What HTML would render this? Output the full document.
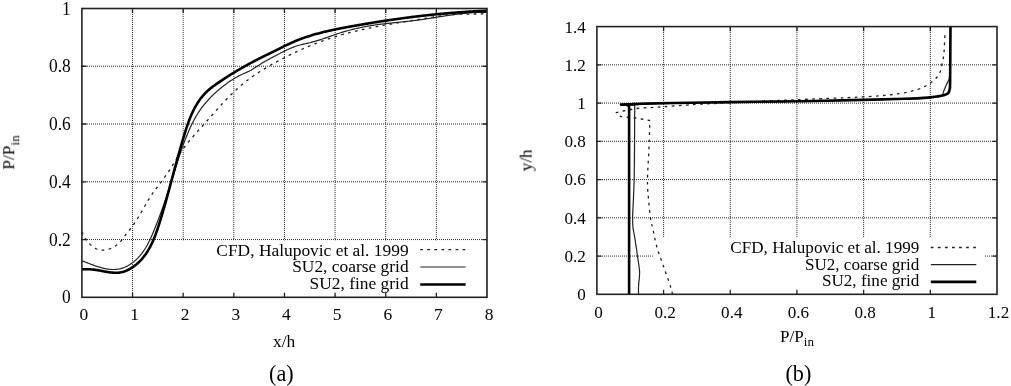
<!DOCTYPE html>
<html><head><meta charset="utf-8"><title>Figure</title>
<style>html,body{margin:0;padding:0;background:#fff;}body{width:1011px;height:386px;overflow:hidden;font-family:"Liberation Serif",serif;}svg{display:block;}</style>
</head><body>
<svg width="1011" height="386" viewBox="0 0 1011 386">
<rect width="1011" height="386" fill="#fff"/>
<defs><filter id="bl" x="0" y="0" width="100%" height="100%"><feGaussianBlur stdDeviation="0.4"/></filter></defs>
<g filter="url(#bl)">
<g font-family='"Liberation Serif", serif' font-size="17.5" fill="#000">
<g font-size="17.4">
<path d="M132.54,8 V297.3 M183.18,8 V240.34 M233.81,8 V240.34 M284.45,8 V240.34 M335.09,8 V240.34 M385.73,8 V240.34 M436.36,8 V240.34 M81,239.54 H487 M81,181.78 H487 M81,124.02 H487 M81,66.26 H487" stroke="#2a2a2a" stroke-width="1" stroke-dasharray="1 1" fill="none"/>
<path d="M132.54,297.3 v-4.6 M132.54,8.5 v4.6 M183.18,297.3 v-4.6 M183.18,8.5 v4.6 M233.81,297.3 v-4.6 M233.81,8.5 v4.6 M284.45,297.3 v-4.6 M284.45,8.5 v4.6 M335.09,297.3 v-4.6 M335.09,8.5 v4.6 M385.73,297.3 v-4.6 M385.73,8.5 v4.6 M436.36,297.3 v-4.6 M436.36,8.5 v4.6 M81.9,239.54 h4.6 M487,239.54 h-4.6 M81.9,181.78 h4.6 M487,181.78 h-4.6 M81.9,124.02 h4.6 M487,124.02 h-4.6 M81.9,66.26 h4.6 M487,66.26 h-4.6" stroke="#222" stroke-width="1.3" fill="none"/>
<path d="M81.95,231.76 L82.25,232.44 L82.57,233.14 L82.91,233.86 L83.27,234.58 L83.66,235.32 L84.06,236.06 L84.49,236.8 L84.93,237.55 L85.39,238.3 L85.88,239.04 L86.38,239.78 L86.9,240.51 L87.44,241.23 L87.99,241.94 L88.56,242.64 L89.15,243.32 L89.76,243.98 L90.38,244.61 L91.02,245.23 L91.67,245.82 L92.34,246.38 L93.02,246.91 L93.72,247.4 L94.43,247.87 L95.16,248.29 L95.89,248.68 L96.65,249.02 L97.41,249.32 L98.18,249.57 L98.97,249.78 L99.76,249.94 L100.57,250.07 L101.38,250.15 L102.19,250.19 L103.01,250.19 L103.83,250.15 L104.66,250.08 L105.48,249.96 L106.3,249.82 L107.12,249.64 L107.94,249.42 L108.75,249.18 L109.56,248.9 L110.36,248.59 L111.15,248.25 L111.93,247.89 L112.7,247.5 L113.46,247.08 L114.2,246.64 L114.93,246.17 L115.65,245.69 L116.34,245.18 L117.02,244.64 L117.67,244.09 L118.31,243.53 L118.93,242.94 L119.53,242.34 L120.12,241.72 L120.69,241.1 L121.25,240.46 L121.8,239.81 L122.35,239.15 L122.88,238.49 L123.4,237.82 L123.93,237.14 L124.44,236.46 L124.96,235.79 L125.47,235.11 L125.99,234.43 L126.51,233.76 L127.03,233.09 L127.55,232.42 L128.08,231.75 L128.61,231.09 L129.13,230.43 L129.66,229.77 L130.19,229.11 L130.71,228.44 L131.22,227.78 L131.74,227.11 L132.24,226.43 L132.74,225.75 L133.23,225.07 L133.72,224.38 L134.2,223.68 L134.67,222.98 L135.14,222.28 L135.61,221.58 L136.07,220.87 L136.53,220.15 L136.98,219.44 L137.43,218.72 L137.87,218 L138.31,217.27 L138.75,216.55 L139.18,215.82 L139.62,215.09 L140.05,214.36 L140.47,213.62 L140.9,212.89 L141.33,212.15 L141.75,211.41 L142.17,210.68 L142.59,209.94 L143.02,209.2 L143.44,208.46 L143.86,207.72 L144.28,206.98 L144.7,206.24 L145.13,205.5 L145.55,204.76 L145.98,204.03 L146.41,203.29 L146.84,202.56 L147.27,201.83 L147.71,201.1 L148.14,200.37 L148.58,199.64 L149.03,198.92 L149.48,198.19 L149.93,197.48 L150.38,196.76 L150.84,196.05 L151.31,195.34 L151.78,194.63 L152.25,193.93 L152.73,193.23 L153.22,192.54 L153.71,191.85 L154.21,191.16 L154.7,190.47 L155.21,189.79 L155.71,189.11 L156.22,188.43 L156.73,187.75 L157.24,187.07 L157.75,186.4 L158.26,185.72 L158.78,185.05 L159.29,184.37 L159.81,183.7 L160.32,183.02 L160.83,182.34 L161.34,181.67 L161.85,180.99 L162.36,180.3 L162.86,179.62 L163.36,178.94 L163.86,178.25 L164.36,177.56 L164.85,176.87 L165.34,176.18 L165.83,175.48 L166.32,174.79 L166.8,174.09 L167.28,173.39 L167.76,172.69 L168.24,171.99 L168.71,171.28 L169.18,170.57 L169.65,169.86 L170.11,169.15 L170.57,168.44 L171.03,167.73 L171.49,167.01 L171.94,166.29 L172.39,165.57 L172.84,164.85 L173.29,164.13 L173.74,163.41 L174.18,162.69 L174.63,161.96 L175.07,161.24 L175.52,160.52 L175.96,159.79 L176.41,159.07 L176.86,158.35 L177.3,157.63 L177.76,156.91 L178.21,156.2 L178.66,155.48 L179.12,154.77 L179.58,154.06 L180.05,153.35 L180.51,152.64 L180.99,151.94 L181.46,151.24 L181.94,150.55 L182.43,149.85 L182.92,149.17 L183.42,148.48 L183.92,147.8 L184.42,147.12 L184.93,146.44 L185.44,145.77 L185.96,145.1 L186.48,144.43 L187,143.77 L187.53,143.1 L188.06,142.44 L188.6,141.79 L189.13,141.13 L189.68,140.48 L190.22,139.83 L190.76,139.18 L191.31,138.53 L191.86,137.88 L192.42,137.24 L192.97,136.6 L193.53,135.96 L194.09,135.32 L194.65,134.68 L195.21,134.04 L195.78,133.4 L196.34,132.77 L196.91,132.13 L197.47,131.5 L198.04,130.87 L198.61,130.23 L199.18,129.6 L199.75,128.97 L200.32,128.34 L200.89,127.71 L201.46,127.07 L202.03,126.44 L202.6,125.81 L203.17,125.18 L203.74,124.54 L204.3,123.91 L204.87,123.28 L205.44,122.64 L206,122.01 L206.57,121.37 L207.13,120.74 L207.69,120.1 L208.26,119.46 L208.82,118.83 L209.38,118.19 L209.95,117.55 L210.51,116.92 L211.07,116.28 L211.63,115.64 L212.19,115.01 L212.75,114.37 L213.32,113.73 L213.88,113.1 L214.44,112.46 L215,111.83 L215.57,111.2 L216.13,110.56 L216.7,109.93 L217.26,109.3 L217.83,108.67 L218.39,108.04 L218.96,107.41 L219.53,106.78 L220.1,106.15 L220.67,105.53 L221.24,104.9 L221.81,104.28 L222.39,103.66 L222.96,103.03 L223.54,102.42 L224.12,101.8 L224.7,101.18 L225.28,100.57 L225.86,99.95 L226.45,99.34 L227.03,98.73 L227.62,98.12 L228.21,97.52 L228.8,96.91 L229.4,96.31 L230,95.71 L230.59,95.11 L231.19,94.52 L231.8,93.93 L232.4,93.34 L233.01,92.75 L233.62,92.16 L234.24,91.58 L234.85,91 L235.47,90.42 L236.09,89.84 L236.72,89.27 L237.35,88.7 L237.98,88.14 L238.61,87.57 L239.25,87.01 L239.89,86.45 L240.53,85.9 L241.18,85.35 L241.83,84.8 L242.48,84.25 L243.13,83.71 L243.79,83.17 L244.45,82.64 L245.12,82.11 L245.78,81.58 L246.45,81.06 L247.12,80.53 L247.8,80.02 L248.48,79.5 L249.16,78.99 L249.84,78.48 L250.52,77.98 L251.21,77.48 L251.9,76.98 L252.59,76.49 L253.28,76 L253.98,75.52 L254.67,75.04 L255.37,74.56 L256.08,74.08 L256.78,73.61 L257.49,73.14 L258.19,72.68 L258.9,72.21 L259.61,71.76 L260.33,71.3 L261.04,70.85 L261.76,70.4 L262.48,69.95 L263.2,69.5 L263.92,69.06 L264.64,68.62 L265.37,68.19 L266.09,67.75 L266.82,67.32 L267.55,66.89 L268.28,66.47 L269.02,66.04 L269.75,65.62 L270.49,65.2 L271.22,64.78 L271.96,64.37 L272.7,63.96 L273.44,63.54 L274.18,63.13 L274.93,62.73 L275.67,62.32 L276.41,61.92 L277.16,61.52 L277.91,61.12 L278.66,60.72 L279.41,60.32 L280.16,59.92 L280.91,59.53 L281.66,59.14 L282.41,58.74 L283.16,58.35 L283.92,57.97 L284.67,57.58 L285.43,57.19 L286.19,56.81 L286.94,56.42 L287.7,56.04 L288.46,55.66 L289.22,55.28 L289.98,54.91 L290.75,54.53 L291.51,54.16 L292.27,53.79 L293.04,53.42 L293.8,53.05 L294.57,52.68 L295.33,52.32 L296.1,51.95 L296.87,51.59 L297.64,51.23 L298.41,50.88 L299.18,50.52 L299.96,50.17 L300.73,49.82 L301.5,49.47 L302.28,49.12 L303.05,48.77 L303.83,48.43 L304.61,48.09 L305.39,47.75 L306.17,47.41 L306.95,47.08 L307.73,46.75 L308.51,46.42 L309.29,46.09 L310.08,45.76 L310.86,45.44 L311.65,45.12 L312.44,44.8 L313.22,44.48 L314.01,44.17 L314.8,43.86 L315.59,43.55 L316.38,43.24 L317.18,42.94 L317.97,42.63 L318.76,42.33 L319.56,42.04 L320.35,41.74 L321.15,41.45 L321.95,41.16 L322.75,40.87 L323.54,40.59 L324.34,40.31 L325.15,40.03 L325.95,39.75 L326.75,39.47 L327.55,39.2 L328.36,38.93 L329.16,38.66 L329.97,38.39 L330.77,38.13 L331.58,37.87 L332.39,37.61 L333.2,37.35 L334,37.1 L334.81,36.84 L335.62,36.59 L336.44,36.34 L337.25,36.1 L338.06,35.85 L338.87,35.61 L339.69,35.37 L340.5,35.13 L341.32,34.9 L342.13,34.67 L342.95,34.43 L343.76,34.21 L344.58,33.98 L345.4,33.75 L346.22,33.53 L347.04,33.31 L347.86,33.09 L348.68,32.87 L349.5,32.66 L350.32,32.45 L351.14,32.24 L351.96,32.03 L352.78,31.82 L353.61,31.62 L354.43,31.41 L355.25,31.21 L356.08,31.01 L356.9,30.82 L357.73,30.62 L358.55,30.43 L359.38,30.24 L360.21,30.05 L361.03,29.86 L361.86,29.67 L362.69,29.49 L363.51,29.3 L364.34,29.12 L365.17,28.94 L366,28.76 L366.83,28.58 L367.66,28.41 L368.49,28.23 L369.32,28.06 L370.15,27.89 L370.98,27.72 L371.81,27.55 L372.65,27.38 L373.48,27.22 L374.31,27.05 L375.14,26.89 L375.98,26.73 L376.81,26.57 L377.64,26.41 L378.48,26.25 L379.31,26.09 L380.14,25.94 L380.98,25.78 L381.81,25.63 L382.65,25.47 L383.48,25.32 L384.32,25.17 L385.15,25.02 L385.99,24.87 L386.83,24.72 L387.66,24.57 L388.5,24.43 L389.33,24.28 L390.17,24.13 L391.01,23.99 L391.84,23.85 L392.68,23.7 L393.52,23.56 L394.36,23.42 L395.19,23.28 L396.03,23.14 L396.87,23 L397.71,22.86 L398.54,22.72 L399.38,22.58 L400.22,22.44 L401.06,22.3 L401.9,22.17 L402.73,22.03 L403.57,21.89 L404.41,21.76 L405.25,21.62 L406.09,21.49 L406.93,21.35 L407.76,21.21 L408.6,21.08 L409.44,20.94 L410.28,20.81 L411.12,20.68 L411.96,20.54 L412.8,20.41 L413.63,20.27 L414.47,20.14 L415.31,20 L416.15,19.87 L416.99,19.73 L417.82,19.6 L418.66,19.46 L419.5,19.33 L420.34,19.19 L421.18,19.06 L422.01,18.92 L422.85,18.79 L423.69,18.65 L424.53,18.51 L425.36,18.38 L426.2,18.24 L427.04,18.1 L427.87,17.96 L428.71,17.83 L429.55,17.69 L430.38,17.55 L431.22,17.42 L432.06,17.28 L432.89,17.15 L433.73,17.01 L434.57,16.88 L435.4,16.75 L436.24,16.62 L437.08,16.49 L437.92,16.37 L438.75,16.24 L439.59,16.12 L440.43,16 L441.27,15.88 L442.11,15.77 L442.95,15.66 L443.79,15.55 L444.62,15.44 L445.46,15.34 L446.31,15.24 L447.15,15.14 L447.99,15.05 L448.83,14.96 L449.67,14.88 L450.51,14.8 L451.36,14.72 L452.2,14.65 L453.05,14.58 L453.89,14.52 L454.74,14.46 L455.58,14.41 L456.43,14.37 L457.28,14.32 L458.13,14.29 L458.98,14.25 L459.83,14.22 L460.68,14.2 L461.53,14.18 L462.38,14.16 L463.23,14.14 L464.08,14.13 L464.93,14.12 L465.78,14.11 L466.63,14.1 L467.49,14.09 L468.34,14.09 L469.19,14.08 L470.04,14.07 L470.89,14.07 L471.75,14.06 L472.6,14.05 L473.45,14.04 L474.3,14.03 L475.15,14.01 L476,14 L476.85,13.98 L477.7,13.96 L478.55,13.93 L479.4,13.9 L480.25,13.87 L481.09,13.83 L481.94,13.78 L482.78,13.73 L483.63,13.68 L484.47,13.62 L485.32,13.55 L486.16,13.48 L487,13.4" stroke="#1e1e1e" stroke-width="1.3" stroke-dasharray="2.7 4.37" fill="none" stroke-linejoin="round"/>
<path d="M81.97,260.74 L82.73,261.03 L83.5,261.33 L84.27,261.64 L85.06,261.95 L85.86,262.27 L86.66,262.59 L87.47,262.91 L88.29,263.23 L89.11,263.56 L89.95,263.88 L90.78,264.2 L91.63,264.53 L92.48,264.84 L93.33,265.16 L94.19,265.47 L95.05,265.77 L95.92,266.07 L96.79,266.37 L97.67,266.65 L98.54,266.93 L99.42,267.19 L100.31,267.45 L101.19,267.7 L102.08,267.93 L102.97,268.15 L103.86,268.36 L104.75,268.55 L105.64,268.73 L106.53,268.89 L107.42,269.04 L108.31,269.16 L109.2,269.27 L110.09,269.36 L110.98,269.43 L111.86,269.48 L112.75,269.51 L113.63,269.51 L114.51,269.49 L115.38,269.44 L116.25,269.38 L117.12,269.28 L117.98,269.16 L118.84,269.01 L119.69,268.83 L120.54,268.62 L121.38,268.39 L122.22,268.14 L123.05,267.85 L123.87,267.55 L124.69,267.22 L125.5,266.86 L126.3,266.49 L127.1,266.09 L127.88,265.68 L128.66,265.24 L129.42,264.78 L130.18,264.31 L130.93,263.82 L131.67,263.31 L132.4,262.78 L133.11,262.24 L133.82,261.68 L134.51,261.11 L135.2,260.53 L135.87,259.93 L136.52,259.32 L137.17,258.7 L137.8,258.06 L138.42,257.42 L139.02,256.77 L139.61,256.11 L140.19,255.43 L140.76,254.75 L141.31,254.06 L141.86,253.37 L142.39,252.66 L142.91,251.94 L143.42,251.22 L143.92,250.49 L144.41,249.76 L144.89,249.01 L145.36,248.26 L145.82,247.5 L146.27,246.74 L146.72,245.97 L147.15,245.2 L147.58,244.42 L148,243.63 L148.41,242.84 L148.82,242.05 L149.22,241.25 L149.61,240.44 L150,239.64 L150.38,238.83 L150.75,238.01 L151.12,237.2 L151.49,236.38 L151.85,235.56 L152.21,234.74 L152.56,233.91 L152.91,233.08 L153.26,232.26 L153.6,231.43 L153.94,230.6 L154.28,229.77 L154.62,228.94 L154.95,228.11 L155.29,227.28 L155.62,226.44 L155.95,225.61 L156.28,224.78 L156.6,223.95 L156.93,223.12 L157.25,222.29 L157.57,221.45 L157.89,220.62 L158.21,219.79 L158.53,218.96 L158.84,218.12 L159.15,217.29 L159.47,216.46 L159.78,215.62 L160.09,214.79 L160.39,213.95 L160.7,213.12 L161,212.28 L161.31,211.45 L161.61,210.61 L161.91,209.78 L162.21,208.94 L162.5,208.1 L162.8,207.27 L163.09,206.43 L163.39,205.59 L163.68,204.75 L163.97,203.92 L164.26,203.08 L164.55,202.24 L164.84,201.4 L165.12,200.56 L165.41,199.72 L165.69,198.88 L165.97,198.04 L166.26,197.2 L166.54,196.35 L166.82,195.51 L167.1,194.67 L167.37,193.83 L167.65,192.98 L167.93,192.14 L168.2,191.29 L168.48,190.45 L168.75,189.6 L169.02,188.76 L169.29,187.91 L169.56,187.07 L169.83,186.22 L170.1,185.37 L170.37,184.52 L170.64,183.67 L170.91,182.83 L171.17,181.98 L171.44,181.13 L171.71,180.28 L171.97,179.43 L172.24,178.57 L172.5,177.72 L172.77,176.87 L173.03,176.02 L173.3,175.17 L173.56,174.32 L173.83,173.47 L174.09,172.61 L174.36,171.76 L174.62,170.91 L174.89,170.06 L175.15,169.21 L175.42,168.35 L175.69,167.5 L175.95,166.65 L176.22,165.8 L176.49,164.95 L176.76,164.1 L177.03,163.25 L177.3,162.39 L177.58,161.54 L177.85,160.69 L178.12,159.85 L178.4,159 L178.68,158.15 L178.96,157.3 L179.24,156.45 L179.52,155.6 L179.8,154.76 L180.08,153.91 L180.37,153.07 L180.66,152.22 L180.95,151.38 L181.24,150.54 L181.53,149.69 L181.82,148.85 L182.12,148.01 L182.42,147.17 L182.72,146.33 L183.02,145.49 L183.33,144.66 L183.64,143.82 L183.95,142.98 L184.26,142.15 L184.58,141.32 L184.89,140.48 L185.21,139.65 L185.54,138.82 L185.86,137.99 L186.19,137.17 L186.52,136.34 L186.86,135.51 L187.19,134.69 L187.53,133.87 L187.88,133.05 L188.22,132.23 L188.57,131.41 L188.93,130.59 L189.29,129.78 L189.65,128.97 L190.01,128.16 L190.38,127.35 L190.76,126.54 L191.14,125.74 L191.52,124.94 L191.91,124.14 L192.3,123.34 L192.7,122.55 L193.1,121.76 L193.51,120.97 L193.93,120.19 L194.35,119.41 L194.77,118.63 L195.2,117.86 L195.64,117.09 L196.09,116.32 L196.54,115.56 L196.99,114.8 L197.46,114.04 L197.93,113.29 L198.41,112.54 L198.89,111.8 L199.39,111.06 L199.89,110.33 L200.39,109.6 L200.91,108.88 L201.43,108.16 L201.96,107.44 L202.5,106.73 L203.04,106.03 L203.59,105.33 L204.15,104.63 L204.72,103.94 L205.29,103.26 L205.86,102.58 L206.45,101.9 L207.04,101.23 L207.63,100.56 L208.23,99.9 L208.84,99.24 L209.45,98.59 L210.07,97.94 L210.69,97.3 L211.32,96.66 L211.96,96.03 L212.59,95.4 L213.24,94.78 L213.88,94.16 L214.54,93.54 L215.19,92.94 L215.86,92.33 L216.52,91.73 L217.19,91.14 L217.86,90.55 L218.54,89.97 L219.22,89.39 L219.91,88.82 L220.59,88.25 L221.28,87.68 L221.98,87.13 L222.67,86.57 L223.37,86.02 L224.08,85.48 L224.78,84.94 L225.49,84.41 L226.21,83.89 L226.92,83.37 L227.64,82.85 L228.37,82.34 L229.1,81.84 L229.83,81.34 L230.56,80.85 L231.3,80.37 L232.05,79.89 L232.79,79.42 L233.54,78.95 L234.3,78.49 L235.06,78.04 L235.82,77.6 L236.59,77.16 L237.37,76.73 L238.15,76.31 L238.93,75.89 L239.72,75.48 L240.51,75.08 L241.31,74.69 L242.11,74.3 L242.92,73.92 L243.73,73.55 L244.55,73.19 L245.37,72.83 L246.19,72.47 L247.01,72.1 L247.82,71.74 L248.63,71.36 L249.44,70.98 L250.24,70.58 L251.03,70.17 L251.81,69.74 L252.58,69.3 L253.33,68.83 L254.08,68.35 L254.82,67.86 L255.56,67.36 L256.29,66.86 L257.03,66.36 L257.77,65.87 L258.51,65.39 L259.26,64.91 L260.01,64.43 L260.76,63.96 L261.52,63.5 L262.28,63.03 L263.04,62.58 L263.81,62.13 L264.58,61.68 L265.35,61.23 L266.12,60.79 L266.89,60.36 L267.67,59.92 L268.45,59.49 L269.23,59.06 L270.01,58.64 L270.8,58.21 L271.58,57.79 L272.37,57.37 L273.16,56.96 L273.94,56.54 L274.73,56.13 L275.53,55.72 L276.32,55.3 L277.11,54.89 L277.9,54.48 L278.7,54.07 L279.49,53.66 L280.29,53.25 L281.08,52.84 L281.88,52.44 L282.67,52.03 L283.47,51.63 L284.27,51.23 L285.07,50.83 L285.87,50.44 L286.67,50.05 L287.48,49.67 L288.29,49.3 L289.1,48.93 L289.91,48.57 L290.73,48.21 L291.55,47.87 L292.37,47.53 L293.19,47.21 L294.02,46.89 L294.86,46.59 L295.69,46.29 L296.54,46.01 L297.38,45.74 L298.23,45.49 L299.09,45.24 L299.95,45.01 L300.81,44.78 L301.67,44.57 L302.54,44.36 L303.41,44.15 L304.28,43.95 L305.15,43.75 L306.02,43.56 L306.89,43.36 L307.77,43.16 L308.64,42.96 L309.51,42.76 L310.38,42.56 L311.24,42.34 L312.11,42.12 L312.97,41.9 L313.83,41.66 L314.68,41.42 L315.54,41.18 L316.39,40.92 L317.24,40.66 L318.09,40.4 L318.94,40.13 L319.78,39.86 L320.63,39.58 L321.47,39.3 L322.31,39.01 L323.15,38.73 L323.99,38.44 L324.83,38.15 L325.67,37.85 L326.51,37.56 L327.35,37.26 L328.19,36.97 L329.03,36.67 L329.87,36.37 L330.71,36.08 L331.54,35.78 L332.39,35.49 L333.23,35.2 L334.07,34.91 L334.91,34.62 L335.76,34.34 L336.6,34.06 L337.45,33.78 L338.3,33.51 L339.15,33.24 L340,32.97 L340.85,32.71 L341.7,32.44 L342.55,32.19 L343.41,31.93 L344.26,31.68 L345.12,31.43 L345.98,31.19 L346.84,30.94 L347.7,30.71 L348.56,30.47 L349.42,30.24 L350.28,30.01 L351.15,29.78 L352.01,29.56 L352.88,29.34 L353.74,29.13 L354.61,28.92 L355.48,28.71 L356.35,28.5 L357.22,28.3 L358.09,28.11 L358.96,27.91 L359.83,27.72 L360.7,27.53 L361.57,27.35 L362.45,27.17 L363.32,26.99 L364.2,26.82 L365.07,26.65 L365.95,26.48 L366.82,26.32 L367.7,26.16 L368.58,26.01 L369.46,25.86 L370.34,25.71 L371.21,25.57 L372.09,25.43 L372.97,25.29 L373.85,25.16 L374.73,25.03 L375.62,24.9 L376.5,24.77 L377.38,24.65 L378.26,24.53 L379.14,24.42 L380.03,24.3 L380.91,24.19 L381.79,24.08 L382.68,23.98 L383.56,23.87 L384.44,23.77 L385.33,23.67 L386.21,23.57 L387.1,23.47 L387.98,23.37 L388.87,23.28 L389.75,23.18 L390.64,23.09 L391.52,23 L392.41,22.9 L393.29,22.81 L394.18,22.72 L395.06,22.63 L395.95,22.54 L396.84,22.45 L397.72,22.36 L398.61,22.27 L399.49,22.18 L400.38,22.09 L401.26,22 L402.15,21.91 L403.04,21.82 L403.92,21.73 L404.81,21.64 L405.69,21.54 L406.58,21.45 L407.46,21.35 L408.35,21.25 L409.23,21.15 L410.11,21.05 L411,20.95 L411.88,20.84 L412.77,20.74 L413.65,20.63 L414.53,20.52 L415.41,20.41 L416.3,20.29 L417.18,20.17 L418.06,20.05 L418.94,19.93 L419.82,19.81 L420.71,19.69 L421.59,19.56 L422.47,19.43 L423.35,19.3 L424.23,19.17 L425.11,19.04 L425.99,18.91 L426.87,18.77 L427.75,18.64 L428.63,18.5 L429.51,18.37 L430.39,18.23 L431.27,18.09 L432.15,17.95 L433.03,17.82 L433.91,17.68 L434.79,17.54 L435.67,17.4 L436.55,17.26 L437.42,17.12 L438.3,16.98 L439.18,16.84 L440.06,16.7 L440.94,16.56 L441.82,16.43 L442.7,16.29 L443.58,16.15 L444.46,16.02 L445.34,15.88 L446.22,15.75 L447.1,15.62 L447.98,15.49 L448.86,15.36 L449.74,15.23 L450.62,15.1 L451.5,14.98 L452.38,14.85 L453.26,14.73 L454.15,14.61 L455.03,14.49 L455.91,14.38 L456.79,14.26 L457.67,14.15 L458.56,14.04 L459.44,13.93 L460.32,13.83 L461.21,13.73 L462.09,13.63 L462.98,13.53 L463.86,13.44 L464.74,13.34 L465.63,13.26 L466.52,13.17 L467.4,13.09 L468.29,13.01 L469.17,12.94 L470.06,12.87 L470.95,12.8 L471.84,12.73 L472.73,12.67 L473.62,12.62 L474.5,12.57 L475.39,12.52 L476.29,12.47 L477.18,12.44 L478.07,12.4 L478.96,12.37 L479.85,12.34 L480.75,12.32 L481.64,12.3 L482.53,12.29 L483.43,12.29 L484.32,12.28 L485.22,12.29 L486.12,12.29 L487.01,12.31" stroke="#222" stroke-width="1.2" fill="none" stroke-linejoin="round"/>
<path d="M81.93,269.4 L82.83,269.33 L83.73,269.27 L84.63,269.23 L85.53,269.2 L86.42,269.19 L87.32,269.2 L88.21,269.22 L89.1,269.25 L90,269.3 L90.89,269.37 L91.79,269.44 L92.68,269.53 L93.58,269.63 L94.48,269.74 L95.38,269.86 L96.28,269.99 L97.18,270.12 L98.09,270.27 L98.99,270.43 L99.9,270.59 L100.81,270.76 L101.73,270.93 L102.64,271.1 L103.56,271.27 L104.47,271.45 L105.39,271.61 L106.3,271.78 L107.22,271.94 L108.13,272.08 L109.05,272.22 L109.96,272.35 L110.87,272.46 L111.79,272.56 L112.69,272.64 L113.6,272.71 L114.5,272.75 L115.4,272.77 L116.3,272.77 L117.19,272.74 L118.08,272.69 L118.97,272.6 L119.85,272.49 L120.73,272.34 L121.6,272.17 L122.47,271.96 L123.33,271.72 L124.18,271.46 L125.03,271.16 L125.87,270.85 L126.7,270.5 L127.52,270.13 L128.34,269.74 L129.15,269.32 L129.95,268.89 L130.74,268.43 L131.51,267.95 L132.28,267.46 L133.04,266.95 L133.79,266.42 L134.53,265.87 L135.25,265.31 L135.96,264.74 L136.66,264.16 L137.35,263.56 L138.02,262.95 L138.68,262.33 L139.33,261.71 L139.96,261.07 L140.58,260.42 L141.19,259.76 L141.79,259.1 L142.37,258.42 L142.94,257.74 L143.5,257.05 L144.05,256.35 L144.59,255.64 L145.12,254.92 L145.63,254.2 L146.14,253.47 L146.64,252.73 L147.12,251.98 L147.6,251.23 L148.06,250.46 L148.52,249.7 L148.97,248.92 L149.41,248.14 L149.84,247.36 L150.26,246.57 L150.67,245.77 L151.08,244.96 L151.48,244.16 L151.87,243.34 L152.25,242.52 L152.62,241.7 L152.99,240.87 L153.35,240.04 L153.71,239.2 L154.06,238.36 L154.4,237.52 L154.74,236.67 L155.07,235.82 L155.4,234.97 L155.72,234.11 L156.04,233.25 L156.35,232.39 L156.65,231.53 L156.96,230.66 L157.26,229.79 L157.55,228.92 L157.84,228.05 L158.13,227.17 L158.42,226.3 L158.7,225.42 L158.98,224.55 L159.26,223.67 L159.53,222.79 L159.8,221.91 L160.07,221.04 L160.34,220.16 L160.61,219.28 L160.88,218.4 L161.14,217.53 L161.41,216.65 L161.67,215.77 L161.93,214.9 L162.19,214.02 L162.45,213.14 L162.71,212.27 L162.97,211.39 L163.22,210.52 L163.48,209.64 L163.73,208.77 L163.98,207.89 L164.23,207.02 L164.48,206.14 L164.73,205.27 L164.98,204.4 L165.23,203.52 L165.48,202.65 L165.72,201.78 L165.97,200.9 L166.21,200.03 L166.46,199.16 L166.7,198.29 L166.94,197.41 L167.18,196.54 L167.42,195.67 L167.66,194.8 L167.9,193.93 L168.14,193.05 L168.38,192.18 L168.62,191.31 L168.85,190.44 L169.09,189.57 L169.33,188.7 L169.56,187.83 L169.8,186.96 L170.03,186.09 L170.27,185.21 L170.5,184.34 L170.74,183.47 L170.97,182.6 L171.21,181.73 L171.44,180.86 L171.67,179.99 L171.91,179.12 L172.14,178.25 L172.37,177.38 L172.61,176.51 L172.84,175.64 L173.08,174.78 L173.31,173.91 L173.54,173.04 L173.78,172.17 L174.01,171.3 L174.24,170.43 L174.48,169.56 L174.71,168.69 L174.95,167.82 L175.18,166.95 L175.42,166.08 L175.65,165.21 L175.89,164.34 L176.12,163.47 L176.36,162.6 L176.6,161.73 L176.84,160.86 L177.07,160 L177.31,159.13 L177.55,158.26 L177.79,157.39 L178.03,156.52 L178.27,155.65 L178.52,154.78 L178.76,153.91 L179,153.04 L179.25,152.17 L179.49,151.3 L179.74,150.43 L179.98,149.56 L180.23,148.69 L180.48,147.82 L180.73,146.95 L180.98,146.08 L181.23,145.21 L181.48,144.34 L181.73,143.47 L181.99,142.6 L182.24,141.73 L182.5,140.86 L182.76,139.99 L183.01,139.11 L183.27,138.24 L183.53,137.37 L183.8,136.5 L184.06,135.63 L184.33,134.76 L184.59,133.89 L184.86,133.01 L185.13,132.14 L185.4,131.27 L185.68,130.4 L185.95,129.53 L186.23,128.66 L186.52,127.79 L186.8,126.93 L187.09,126.06 L187.39,125.2 L187.69,124.34 L187.99,123.48 L188.29,122.62 L188.61,121.76 L188.92,120.91 L189.24,120.06 L189.57,119.21 L189.9,118.36 L190.24,117.52 L190.58,116.68 L190.93,115.84 L191.29,115.01 L191.65,114.18 L192.02,113.35 L192.4,112.53 L192.78,111.71 L193.18,110.9 L193.58,110.09 L193.99,109.28 L194.4,108.48 L194.83,107.69 L195.26,106.9 L195.7,106.11 L196.15,105.33 L196.62,104.55 L197.09,103.78 L197.57,103.02 L198.06,102.26 L198.56,101.51 L199.07,100.76 L199.59,100.02 L200.13,99.29 L200.67,98.56 L201.23,97.84 L201.79,97.13 L202.37,96.42 L202.96,95.73 L203.56,95.04 L204.17,94.37 L204.79,93.7 L205.41,93.05 L206.05,92.4 L206.7,91.77 L207.36,91.15 L208.02,90.54 L208.7,89.94 L209.38,89.35 L210.07,88.77 L210.77,88.2 L211.48,87.64 L212.19,87.08 L212.9,86.54 L213.62,86 L214.35,85.46 L215.08,84.93 L215.81,84.4 L216.55,83.88 L217.29,83.37 L218.04,82.85 L218.78,82.34 L219.53,81.83 L220.28,81.32 L221.03,80.82 L221.78,80.31 L222.54,79.81 L223.29,79.31 L224.05,78.82 L224.81,78.32 L225.57,77.83 L226.33,77.34 L227.1,76.85 L227.86,76.36 L228.63,75.88 L229.39,75.4 L230.16,74.91 L230.93,74.44 L231.71,73.96 L232.48,73.48 L233.25,73.01 L234.03,72.54 L234.81,72.07 L235.58,71.61 L236.36,71.14 L237.14,70.68 L237.92,70.22 L238.71,69.76 L239.49,69.3 L240.27,68.85 L241.06,68.4 L241.85,67.95 L242.63,67.5 L243.42,67.05 L244.21,66.61 L245,66.17 L245.79,65.73 L246.58,65.29 L247.38,64.85 L248.17,64.42 L248.97,63.98 L249.76,63.55 L250.56,63.12 L251.36,62.7 L252.15,62.27 L252.95,61.85 L253.75,61.43 L254.55,61.01 L255.36,60.59 L256.16,60.17 L256.96,59.76 L257.77,59.34 L258.57,58.93 L259.38,58.52 L260.19,58.11 L260.99,57.71 L261.8,57.3 L262.61,56.9 L263.42,56.5 L264.24,56.09 L265.05,55.7 L265.86,55.3 L266.68,54.9 L267.49,54.51 L268.31,54.11 L269.12,53.72 L269.94,53.32 L270.76,52.93 L271.57,52.53 L272.39,52.14 L273.2,51.74 L274.01,51.34 L274.83,50.94 L275.64,50.53 L276.45,50.12 L277.26,49.71 L278.07,49.3 L278.87,48.89 L279.68,48.48 L280.49,48.07 L281.3,47.66 L282.11,47.25 L282.92,46.84 L283.73,46.44 L284.54,46.04 L285.36,45.64 L286.17,45.24 L286.99,44.85 L287.81,44.46 L288.63,44.08 L289.45,43.7 L290.27,43.32 L291.1,42.95 L291.92,42.58 L292.75,42.21 L293.58,41.85 L294.41,41.5 L295.24,41.15 L296.08,40.8 L296.91,40.46 L297.75,40.12 L298.59,39.79 L299.44,39.46 L300.28,39.14 L301.12,38.83 L301.97,38.51 L302.82,38.21 L303.67,37.9 L304.52,37.61 L305.38,37.31 L306.23,37.02 L307.09,36.74 L307.95,36.46 L308.81,36.18 L309.67,35.91 L310.54,35.64 L311.4,35.37 L312.27,35.11 L313.13,34.86 L314,34.6 L314.87,34.35 L315.74,34.11 L316.61,33.87 L317.49,33.63 L318.36,33.39 L319.24,33.16 L320.11,32.93 L320.99,32.7 L321.87,32.48 L322.75,32.26 L323.63,32.05 L324.51,31.83 L325.39,31.62 L326.28,31.41 L327.16,31.21 L328.04,31 L328.93,30.8 L329.82,30.61 L330.7,30.41 L331.59,30.22 L332.48,30.02 L333.37,29.84 L334.26,29.65 L335.15,29.46 L336.04,29.28 L336.93,29.1 L337.82,28.92 L338.71,28.74 L339.6,28.57 L340.49,28.39 L341.39,28.22 L342.28,28.05 L343.17,27.88 L344.07,27.71 L344.96,27.54 L345.85,27.37 L346.75,27.21 L347.64,27.05 L348.53,26.88 L349.43,26.72 L350.32,26.56 L351.22,26.4 L352.11,26.24 L353,26.08 L353.9,25.92 L354.79,25.76 L355.68,25.6 L356.58,25.44 L357.47,25.29 L358.36,25.13 L359.26,24.98 L360.15,24.82 L361.04,24.67 L361.93,24.51 L362.83,24.36 L363.72,24.21 L364.61,24.06 L365.51,23.9 L366.4,23.75 L367.29,23.6 L368.18,23.46 L369.08,23.31 L369.97,23.16 L370.86,23.01 L371.76,22.87 L372.65,22.72 L373.54,22.57 L374.44,22.43 L375.33,22.29 L376.22,22.14 L377.12,22 L378.01,21.86 L378.9,21.72 L379.8,21.58 L380.69,21.44 L381.58,21.3 L382.48,21.16 L383.37,21.02 L384.26,20.89 L385.16,20.75 L386.05,20.62 L386.95,20.48 L387.84,20.35 L388.74,20.21 L389.63,20.08 L390.53,19.95 L391.42,19.82 L392.32,19.69 L393.21,19.56 L394.11,19.43 L395,19.3 L395.9,19.18 L396.8,19.05 L397.69,18.92 L398.59,18.8 L399.49,18.67 L400.38,18.55 L401.28,18.43 L402.18,18.31 L403.08,18.19 L403.97,18.07 L404.87,17.95 L405.77,17.83 L406.67,17.71 L407.57,17.59 L408.46,17.48 L409.36,17.36 L410.26,17.25 L411.16,17.13 L412.06,17.02 L412.96,16.91 L413.86,16.8 L414.76,16.69 L415.66,16.58 L416.56,16.47 L417.46,16.36 L418.36,16.25 L419.26,16.14 L420.16,16.04 L421.06,15.93 L421.96,15.83 L422.86,15.73 L423.76,15.63 L424.66,15.52 L425.57,15.42 L426.47,15.32 L427.37,15.23 L428.27,15.13 L429.17,15.03 L430.07,14.93 L430.97,14.84 L431.88,14.74 L432.78,14.65 L433.68,14.56 L434.58,14.47 L435.49,14.38 L436.39,14.29 L437.29,14.2 L438.19,14.11 L439.1,14.02 L440,13.93 L440.9,13.85 L441.8,13.77 L442.71,13.68 L443.61,13.6 L444.51,13.52 L445.42,13.44 L446.32,13.36 L447.22,13.28 L448.13,13.2 L449.03,13.12 L449.93,13.05 L450.84,12.97 L451.74,12.9 L452.64,12.82 L453.55,12.75 L454.45,12.68 L455.35,12.61 L456.26,12.54 L457.16,12.47 L458.06,12.4 L458.97,12.34 L459.87,12.27 L460.78,12.21 L461.68,12.14 L462.58,12.08 L463.49,12.02 L464.39,11.96 L465.3,11.9 L466.2,11.84 L467.1,11.78 L468.01,11.73 L468.91,11.67 L469.82,11.62 L470.72,11.56 L471.62,11.51 L472.53,11.46 L473.43,11.41 L474.33,11.36 L475.24,11.31 L476.14,11.26 L477.05,11.21 L477.95,11.17 L478.85,11.12 L479.76,11.08 L480.66,11.04 L481.57,11 L482.47,10.96 L483.37,10.92 L484.28,10.88 L485.18,10.84 L486.08,10.81 L486.99,10.77" stroke="#000" stroke-width="2.6" fill="none" stroke-linejoin="round"/>
<text transform="translate(408.6,255.5) scale(1,1.0)" text-anchor="end">CFD, Halupovic et al. 1999</text>
<path d="M420.2,249.6 H465.6" stroke="#1e1e1e" stroke-width="1.3" stroke-dasharray="2.7 4.37"/>
<text transform="translate(408.6,272.2) scale(1,1.0)" text-anchor="end">SU2, coarse grid</text>
<path d="M420.2,267 H465.6" stroke="#222" stroke-width="1.2"/>
<text transform="translate(408.6,289) scale(1,1.0)" text-anchor="end">SU2, fine grid</text>
<path d="M420.2,284.5 H465.6" stroke="#000" stroke-width="2.6"/>
<rect x="81.9" y="8.5" width="405.1" height="288.8" fill="none" stroke="#222" stroke-width="1.6"/>
<text transform="translate(83.9,320.4) scale(1,1.0)" text-anchor="middle">0</text>
<text transform="translate(134.54,320.4) scale(1,1.0)" text-anchor="middle">1</text>
<text transform="translate(185.18,320.4) scale(1,1.0)" text-anchor="middle">2</text>
<text transform="translate(235.81,320.4) scale(1,1.0)" text-anchor="middle">3</text>
<text transform="translate(286.45,320.4) scale(1,1.0)" text-anchor="middle">4</text>
<text transform="translate(337.09,320.4) scale(1,1.0)" text-anchor="middle">5</text>
<text transform="translate(387.73,320.4) scale(1,1.0)" text-anchor="middle">6</text>
<text transform="translate(438.36,320.4) scale(1,1.0)" text-anchor="middle">7</text>
<text transform="translate(489,320.4) scale(1,1.0)" text-anchor="middle">8</text>
<text transform="translate(70.7,303.3) scale(1,1.04)" text-anchor="end">0</text>
<text transform="translate(70.7,245.54) scale(1,1.04)" text-anchor="end">0.2</text>
<text transform="translate(70.7,187.78) scale(1,1.04)" text-anchor="end">0.4</text>
<text transform="translate(70.7,130.02) scale(1,1.04)" text-anchor="end">0.6</text>
<text transform="translate(70.7,72.26) scale(1,1.04)" text-anchor="end">0.8</text>
<text transform="translate(70.7,14.5) scale(1,1.04)" text-anchor="end">1</text>
<text transform="translate(284.1,346.6) scale(1,1.0)" text-anchor="middle">x/h</text>
<text transform="translate(14.6,152.5) rotate(-90) scale(1,0.96)" text-anchor="middle">P/P<tspan font-size="13" dy="4.8">in</tspan></text>
<text transform="translate(281.3,381.3) scale(1,1.0)" text-anchor="middle" font-size="22.2">(a)</text>
</g>
<g font-size="17.1">
<path d="M663.58,26 V238 M730.27,26 V238 M796.95,26 V238 M863.63,26 V238 M930.32,26 V238 M596,256.06 H652.8 M985,256.06 H997 M596,217.81 H997 M596,179.57 H997 M596,141.33 H997 M596,103.09 H997 M596,64.84 H997" stroke="#2a2a2a" stroke-width="1" stroke-dasharray="1 1" fill="none"/>
<path d="M663.58,294.3 v-4.6 M663.58,26.6 v4.6 M730.27,294.3 v-4.6 M730.27,26.6 v4.6 M796.95,294.3 v-4.6 M796.95,26.6 v4.6 M863.63,294.3 v-4.6 M863.63,26.6 v4.6 M930.32,294.3 v-4.6 M930.32,26.6 v4.6 M596.9,256.06 h4.6 M997,256.06 h-4.6 M596.9,217.81 h4.6 M997,217.81 h-4.6 M596.9,179.57 h4.6 M997,179.57 h-4.6 M596.9,141.33 h4.6 M997,141.33 h-4.6 M596.9,103.09 h4.6 M997,103.09 h-4.6 M596.9,64.84 h4.6 M997,64.84 h-4.6" stroke="#222" stroke-width="1.3" fill="none"/>
<path d="M672.5,294.3 C672.4,293.85 672.43,293.52 671.9,291.6 C671.37,289.68 670.77,287.2 669.3,282.8 C667.83,278.4 665.15,271.07 663.1,265.2 C661.05,259.33 658.67,253.47 657,247.6 C655.33,241.73 654.18,234.92 653.1,230 C652.02,225.08 651.25,223.1 650.5,218.1 C649.75,213.1 649.08,205.07 648.6,200 C648.12,194.93 647.77,191.92 647.6,187.7 C647.43,183.48 647.38,180.98 647.6,174.7 C647.82,168.42 648.57,157.45 648.9,150 C649.23,142.55 649.45,134.92 649.6,130 C649.75,125.08 649.77,122.08 649.8,120.5 L641.5,119 L635.3,118 L628,117.3 L620.8,116.5 L616.2,112.6 L622.9,111 L636.3,108.5 L643.6,107.9 L659.1,107.1 C664.78,106.68 682.88,105.25 693.2,104.6 C703.52,103.95 715.03,103.5 721,103.2 C726.97,102.9 716.78,103.37 729,102.8 C741.22,102.23 772.03,100.78 794.3,99.8 C816.57,98.82 846.65,97.73 862.6,96.9 C878.55,96.07 882.6,95.57 890,94.8 C897.4,94.03 902.33,93.22 907,92.3 C911.67,91.38 915,90.3 918,89.3 C921,88.3 922.87,87.4 925,86.3 C927.13,85.2 928.85,84.17 930.8,82.7 C932.75,81.23 935.13,79.33 936.7,77.5 C938.27,75.67 939.33,73.83 940.2,71.7 C941.07,69.57 941.38,66.95 941.9,64.7 C942.42,62.45 942.93,60.47 943.3,58.2 C943.67,55.93 943.9,53.47 944.1,51.1 C944.3,48.73 944.38,46.38 944.5,44 C944.62,41.62 944.7,38.97 944.8,36.8 C944.9,34.63 945.05,31.97 945.1,31" stroke="#1e1e1e" stroke-width="1.3" stroke-dasharray="2.7 4.37" fill="none" stroke-linejoin="round"/>
<path d="M638.5,294.3 C638.5,293.25 638.45,289.93 638.5,288 C638.55,286.07 638.65,284.48 638.8,282.7 C638.95,280.92 639.27,279.08 639.4,277.3 C639.53,275.52 639.65,273.77 639.6,272 C639.55,270.23 639.32,268.47 639.1,266.7 C638.88,264.93 638.58,263.17 638.3,261.4 C638.02,259.63 637.67,258 637.4,256.1 C637.13,254.2 636.98,251.98 636.7,250 C636.42,248.02 636,246.13 635.7,244.2 C635.4,242.27 635.22,240.35 634.9,238.4 C634.58,236.45 634.13,234.45 633.8,232.5 C633.47,230.55 633.1,229.12 632.9,226.7 C632.7,224.28 632.6,220.78 632.6,218 C632.6,215.22 632.73,213.83 632.9,210 C633.07,206.17 633.38,200.33 633.6,195 C633.82,189.67 634.05,185.5 634.2,178 C634.35,170.5 634.43,158 634.5,150 C634.57,142 634.57,136.67 634.6,130 C634.63,123.33 634.68,114.12 634.7,110 C634.72,105.88 634.7,106.08 634.7,105.3 L629,105 C634.17,104.77 643.33,104.03 660,103.6 C676.67,103.17 705.92,102.77 729,102.4 C752.08,102.03 776.23,101.78 798.5,101.4 C820.77,101.02 844.02,100.53 862.6,100.1 C881.18,99.67 897.93,99.27 910,98.8 C922.07,98.33 929.63,97.93 935,97.3 C940.37,96.67 940.8,95.88 942.2,95 C943.6,94.12 943.2,92.5 943.4,92 L946.4,84.6 L949.3,79 L950,70 L950.5,26.4" stroke="#222" stroke-width="1.2" fill="none" stroke-linejoin="round"/>
<path d="M629.1,294.3 L629.1,200 L629.1,106.5 L627,104.8 L621,104.6 L628,104.35 C633.33,104.16 643.17,103.58 660,103.2 C676.83,102.83 705.92,102.43 729,102.1 C752.08,101.77 776.23,101.57 798.5,101.2 C820.77,100.83 844.85,100.3 862.6,99.9 C880.35,99.5 894.13,99.18 905,98.8 C915.87,98.42 922.3,98 927.8,97.6 C933.3,97.2 935.22,96.83 938,96.4 C940.78,95.97 942.78,95.53 944.5,95 C946.22,94.47 947.42,94.2 948.3,93.2 C949.18,92.2 949.5,90.53 949.8,89 C950.1,87.47 950.05,84.83 950.1,84 L950.5,26.4" stroke="#000" stroke-width="2.6" fill="none" stroke-linejoin="round"/>
<text transform="translate(919.3,253.4) scale(1,1.0)" text-anchor="end">CFD, Halupovic et al. 1999</text>
<path d="M930.8,247.5 H976.3" stroke="#1e1e1e" stroke-width="1.3" stroke-dasharray="2.7 4.37"/>
<text transform="translate(919.3,269.6) scale(1,1.0)" text-anchor="end">SU2, coarse grid</text>
<path d="M930.8,264.6 H976.3" stroke="#222" stroke-width="1.2"/>
<text transform="translate(919.3,286) scale(1,1.0)" text-anchor="end">SU2, fine grid</text>
<path d="M930.8,281.9 H976.3" stroke="#000" stroke-width="2.6"/>
<rect x="596.9" y="26.6" width="400.1" height="267.7" fill="none" stroke="#222" stroke-width="1.6"/>
<text transform="translate(598.4,317.5) scale(1,1.0)" text-anchor="middle">0</text>
<text transform="translate(665.08,317.5) scale(1,1.0)" text-anchor="middle">0.2</text>
<text transform="translate(731.77,317.5) scale(1,1.0)" text-anchor="middle">0.4</text>
<text transform="translate(798.45,317.5) scale(1,1.0)" text-anchor="middle">0.6</text>
<text transform="translate(865.13,317.5) scale(1,1.0)" text-anchor="middle">0.8</text>
<text transform="translate(931.82,317.5) scale(1,1.0)" text-anchor="middle">1</text>
<text transform="translate(998.5,317.5) scale(1,1.0)" text-anchor="middle">1.2</text>
<text transform="translate(585.9,300.2) scale(1,1.0)" text-anchor="end">0</text>
<text transform="translate(585.9,261.96) scale(1,1.0)" text-anchor="end">0.2</text>
<text transform="translate(585.9,223.71) scale(1,1.0)" text-anchor="end">0.4</text>
<text transform="translate(585.9,185.47) scale(1,1.0)" text-anchor="end">0.6</text>
<text transform="translate(585.9,147.23) scale(1,1.0)" text-anchor="end">0.8</text>
<text transform="translate(585.9,108.99) scale(1,1.0)" text-anchor="end">1</text>
<text transform="translate(585.9,70.74) scale(1,1.0)" text-anchor="end">1.2</text>
<text transform="translate(585.9,32.5) scale(1,1.0)" text-anchor="end">1.4</text>
<text transform="translate(797,341.5) scale(1,1.0)" text-anchor="middle">P/P<tspan font-size="13" dy="4">in</tspan></text>
<text transform="translate(531.6,160.3) rotate(-90) scale(1,1.0)" text-anchor="middle">y/h</text>
<text transform="translate(798.4,381.3) scale(1,1.0)" text-anchor="middle" font-size="22.2">(b)</text>
</g></g></g></svg>
</body></html>
